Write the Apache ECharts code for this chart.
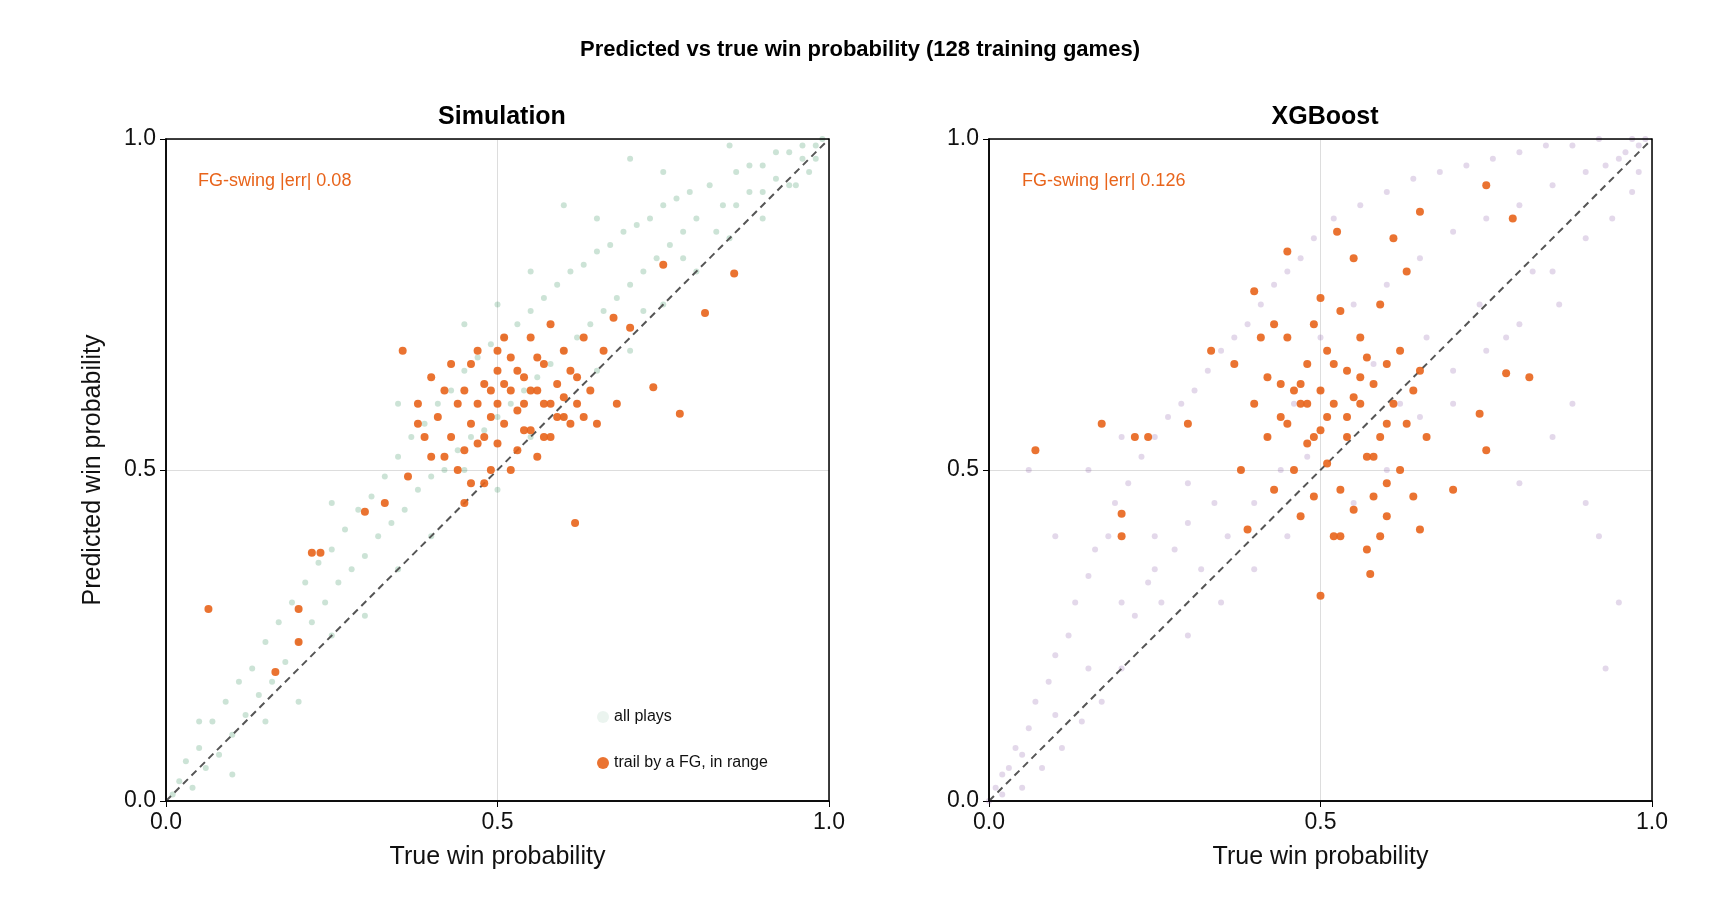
<!DOCTYPE html>
<html style="height: 100%">
<head><meta charset="utf-8"></head>
<body style="height: 100%; margin: 0; background: #fff">
<div id="container" style="width: 1720px; height: 920px"></div>
<script src="https://cdn.jsdelivr.net/npm/echarts@6/dist/echarts.min.js"></script>
<script>
// background "all plays" points
var simAll = [
[0.01,0.01],[0.02,0.03],[0.03,0.06],[0.04,0.02],[0.05,0.08],[0.06,0.05],[0.07,0.12],[0.08,0.07],[0.09,0.15],[0.1,0.1],
[0.11,0.18],[0.12,0.13],[0.13,0.2],[0.14,0.16],[0.15,0.24],[0.16,0.18],[0.17,0.27],[0.18,0.21],[0.19,0.3],[0.2,0.24],
[0.21,0.33],[0.22,0.27],[0.23,0.36],[0.24,0.3],[0.25,0.38],[0.26,0.33],[0.27,0.41],[0.28,0.35],[0.29,0.44],[0.3,0.37],
[0.31,0.46],[0.32,0.4],[0.33,0.49],[0.34,0.42],[0.35,0.52],[0.36,0.44],[0.37,0.55],[0.38,0.47],[0.39,0.57],[0.4,0.49],
[0.41,0.6],[0.42,0.5],[0.43,0.62],[0.44,0.53],[0.45,0.65],[0.46,0.55],[0.47,0.67],[0.48,0.56],[0.49,0.69],[0.5,0.58],
[0.51,0.7],[0.52,0.6],[0.53,0.72],[0.54,0.62],[0.55,0.74],[0.56,0.64],[0.57,0.76],[0.58,0.66],[0.59,0.78],[0.6,0.68],
[0.61,0.8],[0.62,0.7],[0.63,0.81],[0.64,0.72],[0.65,0.83],[0.66,0.74],[0.67,0.84],[0.68,0.76],[0.69,0.86],[0.7,0.78],
[0.71,0.87],[0.72,0.8],[0.73,0.88],[0.74,0.82],[0.75,0.9],[0.76,0.84],[0.77,0.91],[0.78,0.86],[0.79,0.92],[0.8,0.88],
[0.82,0.93],[0.84,0.9],[0.86,0.95],[0.88,0.92],[0.9,0.96],[0.92,0.94],[0.94,0.98],[0.96,0.97],[0.98,0.99],[0.99,1.0],
[0.1,0.04],[0.2,0.15],[0.3,0.28],[0.4,0.4],[0.5,0.47],[0.6,0.58],[0.7,0.68],[0.8,0.8],[0.9,0.88],[0.95,0.93],
[0.25,0.45],[0.35,0.6],[0.45,0.72],[0.55,0.8],[0.65,0.88],[0.75,0.95],[0.85,0.99],[0.6,0.9],[0.7,0.97],[0.5,0.75],
[0.05,0.12],[0.15,0.12],[0.25,0.25],[0.35,0.35],[0.45,0.5],[0.55,0.55],[0.65,0.65],[0.75,0.75],[0.85,0.85],[0.9,0.92],
[0.92,0.98],[0.94,0.93],[0.96,0.99],[0.97,0.95],[0.98,0.97],[0.88,0.96],[0.86,0.9],[0.83,0.86],[0.78,0.82],[0.72,0.74]
];
var xgbAll = [
[0.0,0.0],[0.01,0.02],[0.02,0.01],[0.03,0.05],[0.04,0.08],[0.05,0.02],[0.06,0.11],[0.07,0.15],[0.08,0.05],[0.09,0.18],
[0.1,0.22],[0.11,0.08],[0.12,0.25],[0.13,0.3],[0.14,0.12],[0.15,0.34],[0.16,0.38],[0.17,0.15],[0.18,0.4],[0.19,0.45],
[0.2,0.2],[0.21,0.48],[0.22,0.28],[0.23,0.52],[0.24,0.33],[0.25,0.55],[0.26,0.3],[0.27,0.58],[0.28,0.38],[0.29,0.6],
[0.3,0.42],[0.31,0.62],[0.32,0.35],[0.33,0.65],[0.34,0.45],[0.35,0.68],[0.36,0.4],[0.37,0.7],[0.38,0.5],[0.39,0.72],
[0.4,0.45],[0.41,0.75],[0.42,0.55],[0.43,0.78],[0.44,0.5],[0.45,0.8],[0.46,0.6],[0.47,0.82],[0.48,0.52],[0.49,0.85],
[0.5,0.62],[0.52,0.88],[0.54,0.55],[0.56,0.9],[0.58,0.66],[0.6,0.92],[0.62,0.6],[0.64,0.94],[0.66,0.7],[0.68,0.95],
[0.7,0.65],[0.72,0.96],[0.74,0.75],[0.76,0.97],[0.78,0.7],[0.8,0.98],[0.82,0.8],[0.84,0.99],[0.86,0.75],[0.88,0.99],
[0.9,0.85],[0.92,1.0],[0.94,0.88],[0.96,0.98],[0.98,0.95],[0.99,1.0],[0.97,0.92],[0.95,0.3],[0.93,0.2],[0.9,0.45],
[0.85,0.55],[0.88,0.6],[0.8,0.48],[0.92,0.4],[0.06,0.5],[0.1,0.4],[0.15,0.5],[0.2,0.55],[0.25,0.35],[0.3,0.25],
[0.35,0.3],[0.4,0.35],[0.45,0.4],[0.55,0.45],[0.6,0.5],[0.65,0.58],[0.7,0.6],[0.75,0.68],[0.8,0.72],[0.85,0.8],
[0.02,0.04],[0.05,0.07],[0.1,0.13],[0.15,0.2],[0.2,0.3],[0.25,0.4],[0.3,0.48],[0.5,0.7],[0.55,0.75],[0.6,0.78],
[0.65,0.82],[0.7,0.86],[0.75,0.88],[0.8,0.9],[0.85,0.93],[0.9,0.95],[0.95,0.97],[0.98,0.99],[0.97,1.0],[0.93,0.96]
];
// "trail by a FG, in range" points
var simFG = [
[0.064,0.29],[0.165,0.195],[0.2,0.24],[0.2,0.29],[0.22,0.375],[0.233,0.375],[0.3,0.437],[0.33,0.45],[0.357,0.68],[0.365,0.49],
[0.617,0.42],[0.775,0.585],[0.813,0.737],[0.857,0.797],[0.75,0.81],[0.735,0.625],[0.7,0.715],[0.675,0.73],
[0.38,0.57],[0.39,0.55],[0.4,0.64],[0.41,0.58],[0.42,0.52],[0.43,0.66],[0.43,0.55],[0.44,0.6],[0.44,0.5],[0.45,0.62],
[0.45,0.53],[0.46,0.57],[0.46,0.48],[0.47,0.68],[0.47,0.6],[0.48,0.55],[0.48,0.63],[0.49,0.58],[0.49,0.5],[0.5,0.65],
[0.5,0.6],[0.5,0.54],[0.51,0.7],[0.51,0.57],[0.52,0.62],[0.52,0.67],[0.53,0.59],[0.53,0.53],[0.54,0.64],[0.54,0.6],
[0.55,0.7],[0.55,0.56],[0.56,0.62],[0.56,0.52],[0.57,0.66],[0.57,0.6],[0.58,0.55],[0.58,0.72],[0.59,0.63],[0.59,0.58],
[0.6,0.61],[0.6,0.68],[0.61,0.57],[0.61,0.65],[0.62,0.6],[0.63,0.7],[0.64,0.62],[0.65,0.57],[0.66,0.68],[0.68,0.6],
[0.42,0.62],[0.45,0.45],[0.48,0.48],[0.52,0.5],[0.55,0.62],[0.57,0.55],[0.6,0.58],[0.62,0.64],[0.5,0.68],[0.46,0.66],
[0.4,0.52],[0.38,0.6],[0.54,0.56],[0.51,0.63],[0.63,0.58],[0.58,0.6],[0.56,0.67],[0.53,0.65],[0.49,0.62],[0.47,0.54]
];
var xgbFG = [
[0.07,0.53],[0.17,0.57],[0.2,0.434],[0.2,0.4],[0.22,0.55],[0.24,0.55],[0.3,0.57],[0.335,0.68],[0.4,0.77],[0.5,0.31],
[0.575,0.343],[0.7,0.47],[0.75,0.53],[0.74,0.585],[0.78,0.646],[0.815,0.64],[0.75,0.93],[0.79,0.88],[0.525,0.86],[0.65,0.89],
[0.37,0.66],[0.38,0.5],[0.39,0.41],[0.4,0.6],[0.41,0.7],[0.42,0.55],[0.43,0.72],[0.43,0.47],[0.44,0.63],[0.45,0.57],
[0.45,0.7],[0.46,0.5],[0.47,0.6],[0.47,0.43],[0.48,0.66],[0.48,0.54],[0.49,0.72],[0.49,0.46],[0.5,0.62],[0.5,0.56],
[0.51,0.68],[0.51,0.51],[0.52,0.4],[0.52,0.6],[0.53,0.74],[0.53,0.47],[0.54,0.65],[0.54,0.55],[0.55,0.82],[0.55,0.44],
[0.56,0.6],[0.56,0.7],[0.57,0.52],[0.57,0.38],[0.58,0.63],[0.58,0.46],[0.59,0.75],[0.59,0.55],[0.6,0.66],[0.6,0.43],
[0.61,0.6],[0.61,0.85],[0.62,0.5],[0.62,0.68],[0.63,0.57],[0.63,0.8],[0.64,0.62],[0.65,0.65],[0.65,0.41],[0.66,0.55],
[0.45,0.83],[0.5,0.76],[0.54,0.58],[0.58,0.52],[0.6,0.48],[0.47,0.63],[0.44,0.58],[0.52,0.66],[0.56,0.64],[0.64,0.46],
[0.53,0.4],[0.59,0.4],[0.46,0.62],[0.49,0.55],[0.55,0.61],[0.57,0.67],[0.6,0.57],[0.42,0.64],[0.48,0.6],[0.51,0.58]
];
var ticks = [0, 0.5, 1];

var orange = '#e8641b';
var chart = echarts.init(document.getElementById('container'));
function axis(grid, name, showName) {
  return {
    gridIndex: grid, min: 0, max: 1, interval: 0.5,
    name: showName ? name : '', nameLocation: 'middle', nameGap: 44,
    nameTextStyle: { fontSize: 25, color: '#111', fontFamily: 'Liberation Sans' },
    axisLine: { show: true, lineStyle: { color: '#000', width: 1.5 } },
    axisTick: { show: true, length: 6, inside: false, lineStyle: { color: '#000' } },
    axisLabel: { fontSize: 23, color: '#111', fontFamily: 'Liberation Sans', margin: 10, formatter: function (v) { return v.toFixed(1); } },
    splitLine: { show: true, lineStyle: { color: '#ddd' } }
  };
}
function diag(i) {
  return {
    type: 'line', xAxisIndex: i, yAxisIndex: i, data: [[0, 0], [1, 1]],
    symbol: 'none', lineStyle: { color: '#555', type: [7, 5], width: 2 }, z: 5, silent: true
  };
}
var option = {
  animation: false,
  title: [
    { text: 'Predicted vs true win probability (128 training games)', left: 'center', top: 34, textStyle: { fontSize: 22, fontFamily: 'Liberation Sans', color: '#000' } },
    { text: 'Simulation', left: 497, textAlign: 'center', top: 100, textStyle: { fontSize: 25, fontFamily: 'Liberation Sans', color: '#000' } },
    { text: 'XGBoost', left: 1320, textAlign: 'center', top: 100, textStyle: { fontSize: 25, fontFamily: 'Liberation Sans', color: '#000' } },
    { text: 'FG-swing |err| 0.08', left: 193, top: 167, textStyle: { fontSize: 18, fontWeight: 'normal', color: orange, fontFamily: 'Liberation Sans' } },
    { text: 'FG-swing |err| 0.126', left: 1017, top: 167, textStyle: { fontSize: 18, fontWeight: 'normal', color: orange, fontFamily: 'Liberation Sans' } }
  ],
  grid: [
    { left: 166, top: 139, width: 663, height: 662 },
    { left: 989, top: 139, width: 663, height: 662 }
  ],
  xAxis: [axis(0, 'True win probability', true), axis(1, 'True win probability', true)],
  yAxis: [
    Object.assign(axis(0, 'Predicted win probability', true), { nameGap: 60 }),
    axis(1, '', false)
  ],
  legend: {
    left: 592, top: 704, orient: 'vertical', itemGap: 30, itemWidth: 12, itemHeight: 12,
    textStyle: { fontSize: 16, fontFamily: 'Liberation Sans', color: '#111' },
    data: [
      { name: 'all plays', icon: 'circle', itemStyle: { color: 'rgba(46,139,87,0.12)' } },
      { name: 'trail by a FG, in range', icon: 'circle', itemStyle: { color: orange } }
    ]
  },
  series: [
    { name: 'all plays', type: 'scatter', xAxisIndex: 0, yAxisIndex: 0, data: simAll, symbolSize: 6, itemStyle: { color: 'rgba(46,139,87,0.3)' } },
    { name: 'all plays', type: 'scatter', xAxisIndex: 1, yAxisIndex: 1, data: xgbAll, symbolSize: 6, itemStyle: { color: 'rgba(128,80,160,0.28)' } },
    diag(0), diag(1),
    { name: 'trail by a FG, in range', type: 'scatter', xAxisIndex: 0, yAxisIndex: 0, data: simFG, symbolSize: 8, itemStyle: { color: orange, opacity: 0.9 }, z: 6 },
    { name: 'trail by a FG, in range', type: 'scatter', xAxisIndex: 1, yAxisIndex: 1, data: xgbFG, symbolSize: 8, itemStyle: { color: orange, opacity: 0.9 }, z: 6 }
  ],
  graphic: [
    { type: 'rect', shape: { x: 166, y: 139, width: 663, height: 662 }, style: { fill: 'none', stroke: '#000', lineWidth: 1.5 }, z: 10, silent: true },
    { type: 'rect', shape: { x: 989, y: 139, width: 663, height: 662 }, style: { fill: 'none', stroke: '#000', lineWidth: 1.5 }, z: 10, silent: true }
  ]
};
chart.setOption(option);
</script>
</body>
</html>
